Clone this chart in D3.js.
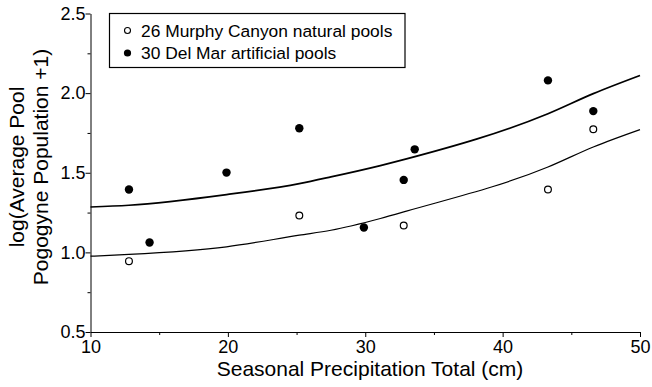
<!DOCTYPE html>
<html>
<head>
<meta charset="utf-8">
<script src="https://cdn.jsdelivr.net/npm/d3@7"></script>
<style>
  html, body { margin: 0; padding: 0; background: #fff; }
  svg { display: block; font-family: "Liberation Sans", Arial, Helvetica, sans-serif; }
</style>
</head>
<body>
<svg id="chart" width="652" height="387"></svg>
<script>
// ---- data ----
const murphyPrecip = [12.8, 25.2, 32.8, 43.3, 46.6];
const murphyLog    = [0.945, 1.232, 1.169, 1.395, 1.773];

const delmarPrecip = [12.8, 14.3, 19.9, 25.2, 29.9, 32.8, 33.6, 43.3, 46.6];
const delmarLog    = [1.395, 1.062, 1.501, 1.779, 1.156, 1.455, 1.647, 2.08, 1.887];

const fitPrecip = [10, 12.8, 19.9, 25.2, 27.5, 31.1, 33, 43.3, 46.6, 50];
const delmarFit = [1.285, 1.296, 1.363, 1.432, 1.474, 1.545, 1.587, 1.871, 1.997, 2.111];
const murphyFit = [0.976, 0.987, 1.035, 1.108, 1.139, 1.213, 1.259, 1.536, 1.662, 1.771];

const xMajorTicks = [10, 20, 30, 40, 50];
const xMinorTicks = [15, 25, 35, 45];
const yMajorTicks = [0.5, 1.0, 1.5, 2.0, 2.5];
const yMinorTicks = [0.75, 1.25, 1.75, 2.25];

const legendLabels = ["26 Murphy Canyon natural pools", "30 Del Mar artificial pools"];
const xTitle = "Seasonal Precipitation Total (cm)";
const yTitleLines = ["log(Average Pool", "Pogogyne Population +1)"];

// ---- drawing ----
const svg = d3.select("#chart");
const x = d3.scaleLinear().domain([10, 50]).range([90.5, 640]);
const y = d3.scaleLinear().domain([0.5, 2.5]).range([332, 13.5]);

// axes
const xAxis = svg.append("g").attr("transform", "translate(0,332)");
xAxis.call(d3.axisBottom(x).tickValues(xMajorTicks).tickFormat(d3.format("d")).tickSize(5).tickSizeOuter(0).tickPadding(3));
xAxis.append("g").call(d3.axisBottom(x).tickValues(xMinorTicks).tickFormat("").tickSize(3).tickSizeOuter(0))
  .select(".domain").remove();

const yAxis = svg.append("g").attr("transform", "translate(90.5,0)");
yAxis.call(d3.axisLeft(y).tickValues(yMajorTicks).tickFormat(d3.format(".1f")).tickSize(5).tickSizeOuter(0).tickPadding(0));
yAxis.append("g").call(d3.axisLeft(y).tickValues(yMinorTicks).tickFormat("").tickSize(3).tickSizeOuter(0))
  .select(".domain").remove();

svg.selectAll("g").attr("font-family", null);
svg.selectAll(".tick text").attr("font-size", 18).attr("fill", "#000");
svg.selectAll(".domain, .tick line").attr("stroke", "#000").attr("stroke-width", 1);

// titles
svg.append("text")
  .attr("x", 370).attr("y", 376)
  .attr("text-anchor", "middle")
  .attr("font-size", 21)
  .text(xTitle);

const yt = svg.append("text")
  .attr("transform", "translate(0,167) rotate(-90)")
  .attr("text-anchor", "middle")
  .attr("font-size", 21);
yTitleLines.forEach((t, i) => {
  yt.append("tspan").attr("x", 0).attr("y", 24 + i * 24).text(t);
});

// fitted curves
const line = d3.line().x(d => x(d[0])).y(d => y(d[1])).curve(d3.curveMonotoneX);
svg.append("path")
  .datum(fitPrecip.map((p, i) => [p, delmarFit[i]]))
  .attr("d", line).attr("fill", "none").attr("stroke", "#000").attr("stroke-width", 1.7);
svg.append("path")
  .datum(fitPrecip.map((p, i) => [p, murphyFit[i]]))
  .attr("d", line).attr("fill", "none").attr("stroke", "#000").attr("stroke-width", 1.2);

// points
svg.append("g").selectAll("circle")
  .data(delmarPrecip.map((p, i) => [p, delmarLog[i]]))
  .join("circle")
  .attr("cx", d => x(d[0])).attr("cy", d => y(d[1]))
  .attr("r", 4.2).attr("fill", "#000");

svg.append("g").selectAll("circle")
  .data(murphyPrecip.map((p, i) => [p, murphyLog[i]]))
  .join("circle")
  .attr("cx", d => x(d[0])).attr("cy", d => y(d[1]))
  .attr("r", 3.4).attr("fill", "#fff").attr("stroke", "#000").attr("stroke-width", 1.2);

// legend
const lg = svg.append("g");
lg.append("rect")
  .attr("x", 109.5).attr("y", 13.5).attr("width", 295.5).attr("height", 54)
  .attr("fill", "#fff").attr("stroke", "#000").attr("stroke-width", 1.2);
lg.append("circle").attr("cx", 127.5).attr("cy", 30.5).attr("r", 3)
  .attr("fill", "#fff").attr("stroke", "#000").attr("stroke-width", 1.1);
lg.append("circle").attr("cx", 127.5).attr("cy", 53).attr("r", 3.6).attr("fill", "#000");
legendLabels.forEach((t, i) => {
  lg.append("text").attr("x", 141).attr("y", 36.5 + i * 22)
    .attr("font-size", 17.4).text(t);
});
</script>
</body>
</html>
